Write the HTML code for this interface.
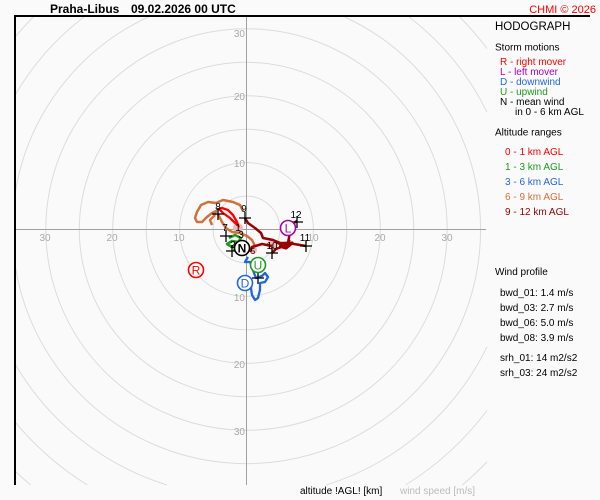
<!DOCTYPE html>
<html><head><meta charset="utf-8"><style>
html,body{margin:0;padding:0;background:#fafafa;width:600px;height:500px;overflow:hidden;}
svg{display:block;font-family:"Liberation Sans",Arial,sans-serif;}
</style></head><body>
<svg width="600" height="500" viewBox="0 0 600 500" xmlns="http://www.w3.org/2000/svg">
<rect width="600" height="500" fill="#fafafa"/>
<g fill="none" stroke="#dcdcdc" stroke-width="1">
<circle cx="246.5" cy="229.5" r="33.4"/>
<circle cx="246.5" cy="229.5" r="66.9"/>
<circle cx="246.5" cy="229.5" r="100.3"/>
<circle cx="246.5" cy="229.5" r="133.8"/>
<circle cx="246.5" cy="229.5" r="167.2"/>
<circle cx="246.5" cy="229.5" r="200.7"/>
<path d="M344.7,17 A234.1,234.1 0 1 1 15,264.3 M15,194.7 A234.1,234.1 0 0 1 148.3,17"/>
<path d="M409.1,17 A267.6,267.6 0 0 1 487,112.2 M487,346.8 A267.6,267.6 0 0 1 326.1,485 M166.9,485 A267.6,267.6 0 0 1 15,363.7 M15,95.3 A267.6,267.6 0 0 1 83.9,17"/>
<path d="M459.7,17 A301,301 0 0 1 487,48.5 M487,410.5 A301,301 0 0 1 405.6,485 M87.4,485 A301,301 0 0 1 15,421.9 M15,37.1 A301,301 0 0 1 33.3,17"/>
<path d="M487,462 A334.5,334.5 0 0 1 462.4,485 M30.6,485 A334.5,334.5 0 0 1 15,471"/>
</g>
<line x1="15" y1="229.5" x2="486" y2="229.5" stroke="#a0a0a0" stroke-width="1"/>
<line x1="246.5" y1="17" x2="246.5" y2="485" stroke="#a0a0a0" stroke-width="1"/>
<g font-size="10" fill="#aaaaaa" text-anchor="middle">
<text x="45" y="241">30</text><text x="112" y="241">20</text><text x="179" y="241">10</text>
<text x="313" y="241">10</text><text x="380" y="241">20</text><text x="447" y="241">30</text>
</g>
<g font-size="10" fill="#aaaaaa" text-anchor="end">
<text x="245" y="37">30</text><text x="245" y="100">20</text><text x="245" y="167">10</text>
<text x="245" y="301">10</text><text x="245" y="368">20</text><text x="245" y="435">30</text>
</g>
<line x1="14" y1="16" x2="590" y2="16" stroke="#000" stroke-width="2"/>
<line x1="15" y1="16" x2="15" y2="485" stroke="#000" stroke-width="2"/>

<g fill="#f2b8b8">
<circle cx="238" cy="228" r="5"/><circle cx="272" cy="245" r="5"/><circle cx="253" cy="250" r="4"/>
</g>
<g fill="none" stroke="#d0703c" stroke-width="2.5" stroke-linejoin="round">
<path d="M216,203 L208,202 L201,205 L197,212 L195,218 L197,222 L202,222 L207,217 L212,213 L216,211 L214,216 L210,220 L212,225"/>
<path d="M216,203 L223,200 L233,202 L240,205 L243,211"/>
<path d="M218,214 L222,222 L226,228 L232,232 L240,233 L247,236 L252,240 L255,246"/>
</g>
<path d="M219,209 L222,208 L228,210 L233,215 L237,222 L238,225 L235,223 L230,218 L223,213 Z" fill="none" stroke="#ff0000" stroke-width="2.3"/>
<g fill="none" stroke="#1e9a1e" stroke-width="2.5" stroke-linejoin="round">
<path d="M229,238 L235,235 L241,238 L238,242 L232,241 L227,244 L232,247 L236,246 L234,251"/>
</g>
<path d="M248,257 L245,262 L250,262 L252,267 L254,273 L256,278 L262,276 L265,273 L268,277 L265,282 L260,283 L260,290 L258,298 L255,300 L252,295 L251,288 L252,282" fill="none" stroke="#2266dd" stroke-width="2.3" stroke-linejoin="round"/>
<g fill="none" stroke="#990000" stroke-width="2.5" stroke-linejoin="round">
<path d="M245,218 L248,223 L255,228 L261,233 L263,238 L273,240 L280,243 L288,243 L306,246"/>
<path d="M288,243 L290,232 L292,224 L297,221"/>
<path d="M290,240 L284,246 L276,249 L272,253 M272,246 L262,244 L252,247 L250,252"/>
<path d="M276,242 L284,245 L292,243 L286,248 L279,246" stroke-width="3.2"/>
</g>
<g stroke="#000" stroke-width="1.3">
<path d="M212,214h12M218,208v12"/>
<path d="M239,218h12M245,212v12"/>
<path d="M220,236h12M226,230v12"/>
<path d="M226,251h12M232,245v12"/>
<path d="M266,253h12M272,247v12"/>
<path d="M300,246h12M306,240v12"/>
<path d="M291,222h12M297,216v12"/>
<path d="M252,278h12M258,272v12"/>
</g>
<g font-size="10" fill="#000" text-anchor="middle">
<text x="218" y="210">8</text><text x="244" y="212">9</text><text x="225" y="231">7</text>
<text x="238" y="231">1</text><text x="241" y="238">3</text><text x="233" y="248">2</text>
<text x="253" y="254" font-size="8">5</text>
<text x="272" y="249">10</text><text x="305" y="241">11</text><text x="296" y="218">12</text>
</g>
<g stroke-width="1.6" font-size="12" text-anchor="middle">
<circle cx="196" cy="270" r="7.5" fill="#fff" stroke="#ff0000"/><text x="196" y="274.5" fill="#ff0000">R</text>
<circle cx="288" cy="228" r="7.5" fill="#fff" stroke="#aa00aa"/><text x="288" y="232.5" fill="#aa00aa">L</text>
<circle cx="245" cy="283" r="7.5" fill="#fff" stroke="#2266dd"/><text x="245" y="287.5" fill="#2266dd">D</text>
<circle cx="258" cy="265" r="7.5" fill="#fff" stroke="#1e9a1e"/><text x="258" y="269.5" fill="#1e9a1e">U</text>
<circle cx="242" cy="248" r="7.5" fill="#fff" stroke="#000"/><text x="242" y="252.5" fill="#000" font-weight="bold">N</text>
</g>
<text x="50" y="13" font-size="12" font-weight="bold" fill="#000">Praha-Libus</text>
<text x="131" y="13" font-size="12" font-weight="bold" fill="#000">09.02.2026 00 UTC</text>
<text x="596" y="13" font-size="11" fill="#ff0000" text-anchor="end">CHMI © 2026</text>
<g font-size="10">
<text x="495" y="30" font-size="11.5" fill="#000">HODOGRAPH</text>
<text x="495" y="50.5" fill="#000">Storm motions</text>
<text x="500" y="65" fill="#ff0000">R - right mover</text>
<text x="500" y="75" fill="#aa00cc">L - left mover</text>
<text x="500" y="85" fill="#2266dd">D - downwind</text>
<text x="500" y="95" fill="#1e9a1e">U - upwind</text>
<text x="500" y="105" fill="#000">N - mean wind</text>
<text x="515" y="115" fill="#000">in 0 - 6 km AGL</text>
<text x="495" y="135.5" fill="#000">Altitude ranges</text>
<text x="505" y="155" fill="#ff0000">0 - 1 km AGL</text>
<text x="505" y="170" fill="#1e9a1e">1 - 3 km AGL</text>
<text x="505" y="185" fill="#2266dd">3 - 6 km AGL</text>
<text x="505" y="200" fill="#d0703c">6 - 9 km AGL</text>
<text x="505" y="215" fill="#990000">9 - 12 km AGL</text>
<text x="495" y="275" fill="#000">Wind profile</text>
<text x="500" y="296" fill="#000">bwd_01: 1.4 m/s</text>
<text x="500" y="311" fill="#000">bwd_03: 2.7 m/s</text>
<text x="500" y="326" fill="#000">bwd_06: 5.0 m/s</text>
<text x="500" y="341" fill="#000">bwd_08: 3.9 m/s</text>
<text x="500" y="361" fill="#000">srh_01: 14 m2/s2</text>
<text x="500" y="376" fill="#000">srh_03: 24 m2/s2</text>
<text x="300" y="494" fill="#000">altitude !AGL! [km]</text>
<text x="400" y="494" fill="#bbbbbb">wind speed [m/s]</text>
</g>
</svg>
</body></html>
